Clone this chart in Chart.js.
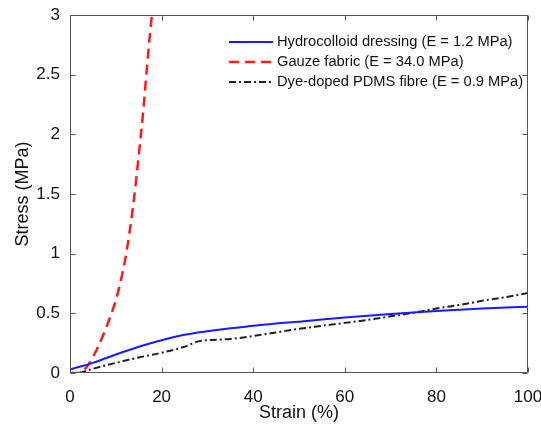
<!DOCTYPE html>
<html>
<head>
<meta charset="utf-8">
<script src="https://cdn.jsdelivr.net/npm/chart.js@4.4.1/dist/chart.umd.min.js"></script>
<style>
  html, body { margin: 0; padding: 0; background: #fff; }
  #wrap { width: 541px; height: 428px; position: relative; }
</style>
</head>
<body>
<div id="wrap"><canvas id="chart"></canvas></div>
<script>
/* ======================
   DATA
====================== */
const xTicks = [0, 20, 40, 60, 80, 100];
const yTicks = [0, 0.5, 1, 1.5, 2, 2.5, 3];

const labels = [
  "Hydrocolloid dressing (E = 1.2 MPa)",
  "Gauze fabric (E = 34.0 MPa)",
  "Dye-doped PDMS fibre (E = 0.9 MPa)"
];

const hydroStrain = [0, 5, 10, 15, 20, 25, 30, 35, 40, 45, 50, 60, 70, 80, 90, 100];
const hydroStress = [0.03, 0.085, 0.155, 0.22, 0.275, 0.32, 0.35, 0.375, 0.395, 0.415, 0.43, 0.465, 0.495, 0.52, 0.54, 0.555];

const gauzeStrain = [0, 2, 4, 6, 8, 10, 11, 12, 13, 14, 15, 16, 17, 18];
const gauzeStress = [0, 0.0, 0.07, 0.21, 0.39, 0.61, 0.76, 0.94, 1.18, 1.47, 1.82, 2.2, 2.65, 3.05];

const pdmsStrain = [2, 5, 10, 15, 20, 25, 28, 30, 35, 40, 45, 50, 55, 60, 65, 70, 75, 80, 85, 90, 95, 100];
const pdmsStress = [0, 0.035, 0.085, 0.13, 0.17, 0.22, 0.265, 0.275, 0.285, 0.31, 0.34, 0.37, 0.395, 0.42, 0.445, 0.475, 0.505, 0.54, 0.57, 0.605, 0.635, 0.67];

function toPoints(xs, ys) {
  return xs.map((x, i) => ({ x, y: ys[i] }));
}

const FONT = "'Liberation Sans', Arial, sans-serif";
const AXIS_COLOR = "#555";

/* ======================
   LEGEND (inside plot)
====================== */
const legendPlugin = {
  id: "insideLegend",
  afterDatasetsDraw(chart) {
    const { ctx } = chart;
    const x0 = 225, y0 = 30, rowH = 20;
    ctx.save();
    ctx.fillStyle = "#fff";
    ctx.fillRect(x0, y0, 297, 63);
    ctx.font = "14.7px " + FONT;
    ctx.textBaseline = "middle";
    chart.data.datasets.forEach((ds, i) => {
      const y = y0 + 12 + i * rowH;
      ctx.strokeStyle = ds.borderColor;
      ctx.lineWidth = ds.borderWidth;
      ctx.setLineDash(ds.borderDash || []);
      ctx.beginPath();
      ctx.moveTo(229, y);
      ctx.lineTo(273, y);
      ctx.stroke();
      ctx.setLineDash([]);
      ctx.fillStyle = "#111";
      ctx.fillText(ds.label, 277, y);
    });
    ctx.restore();
  }
};

/* ======================
   BOX + INWARD TICKS
====================== */
const boxPlugin = {
  id: "box",
  afterDraw(chart) {
    const { ctx, chartArea: a, scales } = chart;
    const L = Math.round(a.left) + 0.5, R = Math.round(a.right) - 0.5;
    const T = Math.round(a.top) + 0.5, B = Math.round(a.bottom) - 0.5;
    ctx.save();
    ctx.setLineDash([]);
    ctx.strokeStyle = AXIS_COLOR;
    ctx.lineWidth = 1;
    ctx.beginPath();
    ctx.moveTo(L, T); ctx.lineTo(R, T); ctx.lineTo(R, B); ctx.lineTo(L, B); ctx.closePath();
    const len = 5;
    xTicks.forEach(v => {
      const px = Math.round(scales.x.getPixelForValue(v)) + 0.5;
      ctx.moveTo(px, B); ctx.lineTo(px, B - len);
      ctx.moveTo(px, T); ctx.lineTo(px, T + len);
    });
    yTicks.forEach(v => {
      const py = Math.round(scales.y.getPixelForValue(v)) + 0.5;
      ctx.moveTo(L, py); ctx.lineTo(L + len, py);
      ctx.moveTo(R, py); ctx.lineTo(R - len, py);
    });
    ctx.stroke();
    ctx.restore();
  }
};

/* ======================
   CHART
====================== */
new Chart(document.getElementById("chart"), {
  type: "line",
  data: {
    datasets: [
      {
        label: labels[0],
        data: toPoints(hydroStrain, hydroStress),
        borderColor: "#1a1aff",
        borderWidth: 2,
        cubicInterpolationMode: "monotone",
        pointRadius: 0
      },
      {
        label: labels[1],
        data: toPoints(gauzeStrain, gauzeStress),
        borderColor: "#ff1a1a",
        borderWidth: 2.5,
        borderDash: [10, 6],
        cubicInterpolationMode: "monotone",
        pointRadius: 0
      },
      {
        label: labels[2],
        data: toPoints(pdmsStrain, pdmsStress),
        borderColor: "#222",
        borderWidth: 2,
        borderDash: [7, 3, 2, 3],
        cubicInterpolationMode: "monotone",
        pointRadius: 0
      }
    ]
  },
  options: {
    responsive: true,
    maintainAspectRatio: false,
    animation: false,
    layout: { padding: { top: 15, right: 13, left: 0, bottom: 0 } },
    plugins: {
      legend: { display: false },
      tooltip: { enabled: false }
    },
    scales: {
      x: {
        type: "linear",
        min: 0,
        max: 100,
        afterBuildTicks: s => { s.ticks = xTicks.map(v => ({ value: v })); },
        afterFit: s => { s.height = 55; s.paddingRight = 0; s.paddingLeft = 0; },
        grid: { display: false },
        border: { display: false },
        ticks: { color: "#111", font: { size: 17, family: FONT }, padding: 6, maxRotation: 0 },
        title: { display: true, text: "Strain (%)", color: "#111", font: { size: 18, family: FONT }, padding: { top: 0 } }
      },
      y: {
        type: "linear",
        min: 0,
        max: 3,
        afterBuildTicks: s => { s.ticks = yTicks.map(v => ({ value: v })); },
        afterFit: s => { s.width = 70; s.paddingTop = 0; s.paddingBottom = 0; },
        grid: { display: false },
        border: { display: false },
        ticks: {
          color: "#111",
          font: { size: 17, family: FONT },
          padding: 2,
          callback: v => String(v)
        },
        title: { display: true, text: "Stress (MPa)", color: "#111", font: { size: 18, family: FONT }, padding: { top: 12, bottom: 0 } }
      }
    }
  },
  plugins: [legendPlugin, boxPlugin]
});
</script>
</body>
</html>
